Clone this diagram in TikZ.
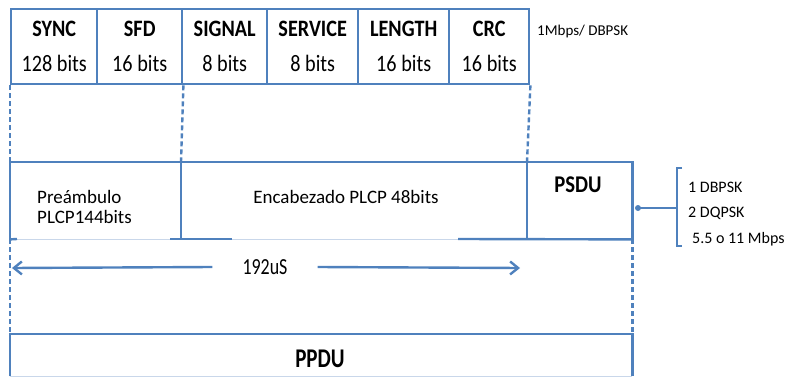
\documentclass[tikz,border=0pt]{standalone}
\usepackage{fontspec}
\setmainfont{Carlito}
\newfontfamily\cond{Carlito}[FakeStretch=0.86]
\newfontfamily\condm{Carlito}[FakeStretch=0.78]
\usetikzlibrary{arrows.meta}
\definecolor{lb}{HTML}{4F81BD}
\definecolor{lbf}{HTML}{C9D7EA}
\tikzset{
  ln/.style={draw=lb, line width=2.4pt},
  dsh/.style={draw=lb, line width=2.4pt, dash pattern=on 5pt off 3pt},
  cell/.style={draw=lb, line width=2.4pt, anchor=north west, minimum height=75pt,
    inner sep=0pt, align=center, font=\cond\fontsize{23.5}{35}\selectfont},
  area/.style={draw=none, anchor=north west, minimum height=77pt, inner sep=0pt},
  txt/.style={inner sep=0pt, text=black},
  arr/.style={draw=lb, line width=2.4pt, -{Straight Barb[length=8pt,width=13pt]}},
}
\begin{document}
\begin{tikzpicture}[x=1pt,y=-1pt]
\useasboundingbox (0,0) rectangle (787,377);
% header row
\node[cell, minimum width=86pt] (sync)    at (10,8)  {\bfseries SYNC\\128 bits};
\node[cell, minimum width=85pt] (sfd)     at (96,8)  {\bfseries SFD\\16 bits};
\node[cell, minimum width=85pt] (signal)  at (181,8) {\bfseries SIGNAL\\8 bits};
\node[cell, minimum width=91pt] (service) at (266,8) {\bfseries SERVICE\\8 bits};
\node[cell, minimum width=91pt] (length)  at (357,8) {\bfseries LENGTH\\16 bits};
\node[cell, minimum width=80pt] (crc)     at (448,8) {\bfseries CRC\\16 bits};
\node[txt, anchor=base west, font=\fontsize{15}{18}\selectfont] (rate) at (537,36) {1Mbps/ DBPSK};
% middle row areas
\node[area, minimum width=171pt] (pre)  at (10,162)  {};
\node[area, minimum width=346pt] (enc)  at (181,162) {};
\node[area, minimum width=105pt] (psdu) at (527,162) {};
\draw[ln] (pre.south west) -- (pre.north west) -- (psdu.north east) -- (psdu.south east);
\draw[ln] (enc.north west) -- (enc.south west);
\draw[ln] (psdu.north west) -- (psdu.south west);
\draw[lbf, line width=0.8pt] (pre.south west) -- (psdu.south east);
\coordinate (s1) at (17,239);
\coordinate (s2) at (170,239);
\coordinate (s3) at (232,239);
\coordinate (s4) at (458,239);
\draw[ln] (pre.south west) -- (s1);
\draw[ln] (s2) -- (s3);
\draw[ln] (s4) -- (psdu.south east);
\node[txt, anchor=base west, font=\fontsize{19}{22}\selectfont] (pre1) at (37,203) {Preámbulo};
\node[txt, anchor=base west, font=\fontsize{19}{22}\selectfont] (pre2) at (37,223) {PLCP144bits};
\node[txt, anchor=base, font=\fontsize{19}{22}\selectfont] (enctxt) at (346,203) {Encabezado PLCP 48bits};
\node[txt, anchor=base, font=\cond\bfseries\fontsize{24}{26}\selectfont] (psdutxt) at (578,193) {PSDU};
% dashed links
\draw[dsh] (sync.south west) -- (pre.north west);
\draw[dsh] (sfd.south east) -- (enc.north west);
\draw[dsh] (crc.south east) -- (psdu.north west);
% PPDU
\node[draw=none, anchor=north west, minimum width=622pt, minimum height=42pt, inner sep=0pt] (ppdu) at (10,334) {};
\draw[ln] (ppdu.south west) -- (ppdu.north west) -- (ppdu.north east) -- (ppdu.south east);
\draw[lbf, line width=0.8pt] (ppdu.south west) -- (ppdu.south east);
\node[txt, anchor=base, font=\condm\bfseries\fontsize{27}{30}\selectfont] (ppdutxt) at (320,367) {PPDU};
\draw[dsh] (pre.south west) -- (ppdu.north west);
\draw[dsh] (psdu.south east) -- (ppdu.north east);
% 192us arrow
\coordinate (al) at (12,268);
\coordinate (ar) at (520,268);
\node[txt, inner xsep=30pt, font=\condm\fontsize{23}{24}\selectfont] (t192) at (265,267) {192uS};
\draw[arr] (t192.west) -- (al);
\draw[arr] (t192.east) -- (ar);
% right bracket
\coordinate (dot) at (638,208);
\coordinate (bm) at (677,208);
\coordinate (bt) at (677,168);
\coordinate (bb) at (677,246);
\fill[lb] (dot) circle (3pt);
\draw[ln] (dot) -- (bm);
\draw[draw=lb, line width=1.8pt] ([xshift=5pt]bt) -- (bt) -- (bb) -- ([xshift=5pt]bb);
\node[txt, anchor=base west, font=\fontsize{16}{18}\selectfont] (m1) at (688,192) {1 DBPSK};
\node[txt, anchor=base west, font=\fontsize{16}{18}\selectfont] (m2) at (688,217) {2 DQPSK};
\node[txt, anchor=base west, font=\fontsize{16}{18}\selectfont] (m3) at (692,243) {5.5 o 11 Mbps};
\end{tikzpicture}
\end{document}
